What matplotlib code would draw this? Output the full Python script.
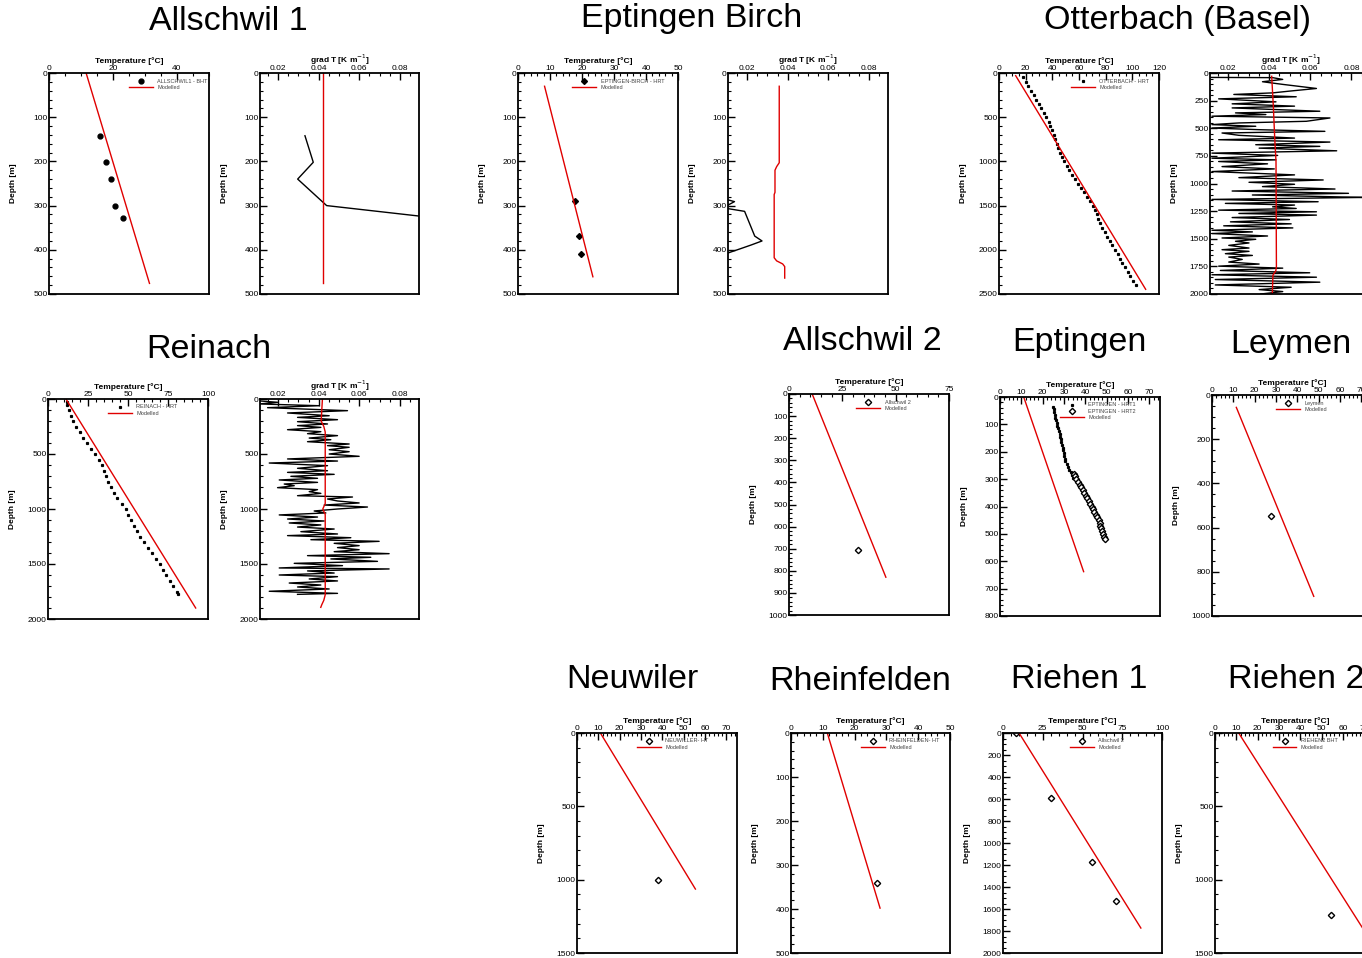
import numpy as np
import matplotlib.pyplot as plt
from matplotlib.ticker import MultipleLocator

plt.rcParams['font.family'] = ['Liberation Sans', 'DejaVu Sans']

# DATA ------------------------------------------------------------------------
# Allschwil 1
a1_bht_t = [15.8, 17.8, 19.4, 20.6, 23.2]
a1_bht_z = [142, 202, 240, 300, 327]
a1_mod_t = [11.6, 31.4]
a1_mod_z = [0, 476]
a1_grad_g = [0.0332, 0.0373, 0.0296, 0.0439, 0.096]
a1_grad_z = [142, 202, 240, 300, 327]
a1_mgrad_g = [0.0422, 0.0422]
a1_mgrad_z = [0, 476]

# Eptingen Birch
eb_hrt_t = [17.7, 19.1, 19.8]
eb_hrt_z = [289, 369, 409]
eb_mod_t = [8.3, 23.4]
eb_mod_z = [30, 461]
eb_grad_g = [0.008, 0.0137, 0.008, 0.0187, 0.0237, 0.0273, 0.022, 0.017, 0.010, 0.006]
eb_grad_z = [284, 291, 305, 313, 369, 380, 389, 397, 408, 413]
eb_mgrad_g = [0.0358, 0.0358, 0.0345, 0.0337, 0.0337, 0.0333, 0.0333, 0.0345, 0.0375, 0.0385, 0.0385]
eb_mgrad_z = [30, 203, 212, 220, 270, 275, 418, 425, 432, 438, 464]

# Otterbach (Basel)
ob_hrt_z = [50, 100, 150, 200, 250, 300, 350, 400, 450, 500, 550, 600, 650, 700,
            750, 800, 850, 900, 950, 1000, 1050, 1100, 1150, 1200, 1250, 1300,
            1350, 1400, 1450, 1500, 1550, 1600, 1650, 1700, 1750, 1800, 1850,
            1900, 1950, 2000, 2050, 2100, 2150, 2200, 2250, 2300, 2350, 2400]
ob_hrt_t = [18.2, 20.2, 22.1, 24.1, 26.0, 28.0, 29.9, 31.8, 33.7, 35.6, 37.2, 38.6,
            40.0, 41.2, 42.3, 43.4, 44.5, 45.7, 47.2, 49.0, 50.8, 52.8, 54.8, 57.0,
            59.4, 61.8, 64.0, 66.0, 68.6, 70.6, 72.0, 73.3, 74.6, 76.0, 77.6, 79.2,
            81.0, 83.0, 85.0, 87.0, 89.0, 90.8, 92.6, 94.5, 96.4, 98.5, 100.6, 102.8]
ob_mod_t = [12.5, 110.0]
ob_mod_z = [30, 2447]
ob_grad_x = [18, 200, 230, 170, 230, 330, 250, 200, 85, 270, 40, 210, 80, 265, 80,
             340, 90, 180, 20, 370, 300, 100, 20, 150, 20, 160, 355, 50, 100, 265,
             40, 370, 150, 340, 160, 390, 20, 215, 20, 210, 40, 185, 50, 205, 20,
             265, 100, 350, 130, 265, 170, 385, 80, 425, 140, 470, 20, 335, 60, 265,
             200, 270, 40, 330, 100, 330, 80, 250, 75, 255, 55, 260, 20, 140, 20,
             185, 50, 150, 90, 130, 70, 130, 50, 130, 60, 140, 70, 110, 70, 160, 40,
             230, 45, 310, 20, 330, 30, 340, 30, 255, 160, 230, 165]
ob_grad_z = [40, 42, 58, 79, 103, 140, 164, 180, 194, 215, 234, 261, 279, 300, 316,
             346, 361, 376, 391, 407, 437, 452, 467, 482, 498, 513, 528, 543, 564,
             589, 604, 625, 649, 664, 680, 704, 725, 746, 771, 786, 801, 822, 847,
             868, 892, 922, 947, 968, 989, 1007, 1028, 1050, 1068, 1089, 1104, 1126,
             1144, 1165, 1180, 1195, 1211, 1226, 1241, 1256, 1271, 1286, 1308, 1326,
             1347, 1365, 1383, 1402, 1423, 1438, 1453, 1475, 1493, 1505, 1523, 1538,
             1560, 1584, 1599, 1614, 1635, 1651, 1666, 1687, 1711, 1729, 1748, 1766,
             1787, 1808, 1826, 1848, 1869, 1893, 1918, 1939, 1960, 1978, 2000]
# read in zoom pixels, converted to K/m
ob_grad_g = [0.02 + (x - 68) * 0.000164 for x in ob_grad_x]
ob_mgrad_g = [0.0412, 0.042, 0.0427, 0.0433, 0.0435, 0.0432, 0.0418, 0.0415]
ob_mgrad_z = [30, 300, 600, 800, 1750, 1790, 1830, 2000]

# Reinach
re_hrt_z = [25, 50, 100, 150, 200, 250, 300, 350, 400, 450, 500, 550, 600, 650,
            700, 750, 800, 850, 900, 950, 1000, 1050, 1100, 1150, 1200, 1250, 1300,
            1350, 1400, 1450, 1500, 1550, 1600, 1650, 1700, 1750, 1775]
re_hrt_t = [11.6, 12.0, 13.0, 14.2, 15.8, 17.8, 20.0, 22.0, 24.4, 27.0, 29.4, 32.0,
            33.6, 35.0, 36.4, 37.8, 39.2, 41.0, 43.2, 46.0, 48.5, 50.0, 51.8, 53.6,
            55.6, 57.4, 59.8, 62.6, 65.2, 67.6, 69.8, 72.0, 74.0, 76.0, 78.2, 80.4, 81.5]
re_mod_t = [11.5, 92.3]
re_mod_z = [6, 1900]
re_grad_x = [18, 70, 15, 195, 40, 280, 100, 225, 130, 250, 130, 220, 130, 200, 100,
             200, 160, 250, 165, 230, 160, 285, 220, 285, 225, 285, 225, 315, 100,
             250, 45, 220, 130, 220, 100, 240, 110, 190, 75, 190, 90, 120, 70, 190,
             165, 200, 130, 295, 220, 250, 315, 210, 340, 250, 180, 215, 75, 190,
             100, 210, 105, 200, 130, 240, 140, 250, 100, 290, 170, 375, 240, 315,
             250, 315, 240, 405, 160, 350, 230, 370, 120, 265, 75, 405, 160, 240, 75,
             250, 165, 250, 105, 200, 130, 225, 45, 250, 130]
re_grad_z = [18, 30, 45, 61, 79, 106, 127, 152, 167, 188, 206, 227, 242, 258, 279,
             297, 315, 333, 355, 370, 388, 409, 424, 439, 461, 479, 500, 521, 545,
             564, 582, 606, 630, 652, 667, 685, 703, 721, 736, 758, 773, 788, 806,
             824, 842, 858, 879, 891, 909, 927, 945, 964, 982, 1000, 1018, 1036,
             1054, 1073, 1091, 1109, 1127, 1145, 1164, 1182, 1206, 1227, 1242, 1261,
             1279, 1294, 1312, 1333, 1351, 1370, 1388, 1406, 1424, 1439, 1454, 1476,
             1494, 1515, 1536, 1545, 1563, 1582, 1600, 1615, 1636, 1654, 1673, 1691,
             1709, 1727, 1748, 1767, 1776]
re_grad_g = [0.02 + (x - 72) * 0.0001644 for x in re_grad_x]
re_mgrad_g = [0.0418, 0.0412, 0.0425, 0.0432, 0.0432, 0.042, 0.0432, 0.0432, 0.0425, 0.0415, 0.041]
re_mgrad_z = [5, 200, 250, 300, 950, 1000, 1050, 1780, 1830, 1870, 1894]

# Allschwil 2
a2_ht_t = [32.4]
a2_ht_z = [705]
a2_mod_t = [11.0, 45.4]
a2_mod_z = [3, 829]

# Eptingen
ep_hrt1_z = [35, 45, 55, 65, 75, 85, 95, 105, 115, 125, 135, 145, 155, 165, 175,
             185, 195, 205, 215, 225, 235, 245, 255, 265, 275, 285, 295]
ep_hrt1_t = [25.0, 25.1, 25.3, 25.6, 25.9, 26.3, 26.6, 26.9, 27.2, 27.5, 27.9, 28.2,
             28.5, 28.8, 29.0, 29.3, 29.5, 29.8, 30.1, 30.4, 30.7, 31.2, 31.8, 32.5,
             33.1, 33.6, 34.0]
ep_hrt2_z = [280, 290, 300, 310, 320, 330, 340, 350, 360, 370, 380, 390, 400, 410,
             420, 430, 440, 450, 460, 470, 480, 490, 500, 510, 520]
ep_hrt2_t = [34.5, 35.0, 35.8, 36.6, 37.3, 38.0, 38.7, 39.4, 40.1, 40.8, 41.5, 42.3,
             43.0, 43.6, 44.2, 44.8, 45.5, 46.2, 46.7, 47.0, 47.3, 47.7, 48.2, 48.6, 49.0]
ep_mod_t = [11.2, 39.2]
ep_mod_z = [2, 638]

# Leymen
le_ht_t = [27.7]
le_ht_z = [548]
le_mod_t = [11.4, 47.7]
le_mod_z = [56, 911]

# Neuwiler
ne_ht_t = [37.8]
ne_ht_z = [1000]
ne_mod_t = [11.25, 55.5]
ne_mod_z = [7, 1064]

# Rheinfelden
rh_ht_t = [26.9]
rh_ht_z = [341]
rh_mod_t = [11.5, 28.0]
rh_mod_z = [2, 398]

# Riehen 1
r1_ht_t = [8.0, 30.5, 55.8, 71.2]
r1_ht_z = [0, 591, 1176, 1530]
r1_mod_t = [10.1, 86.7]
r1_mod_z = [0, 1773]

# Riehen 2
r2_ht_t = [54.5]
r2_ht_z = [1239]
r2_mod_t = [11.1, 74.0]
r2_mod_z = [0, 1440]

# FIGURE ----------------------------------------------------------------------
W, H = 1362, 958
fig = plt.figure(figsize=(W / 100, H / 100), dpi=100)
RED = '#e00000'


def add_ax(l, t, r, b):
    return fig.add_axes([l / W, 1 - b / H, (r - l) / W, (b - t) / H])


def style(ax, xlim, xmaj, xmin, zmax, zmaj, zmin, xlabel):
    ax.set_xlim(*xlim)
    ax.set_ylim(zmax, 0)
    ax.xaxis.set_ticks_position('top')
    ax.xaxis.set_label_position('top')
    ax.xaxis.set_major_locator(MultipleLocator(xmaj))
    ax.xaxis.set_minor_locator(MultipleLocator(xmin))
    ax.yaxis.set_major_locator(MultipleLocator(zmaj))
    ax.yaxis.set_minor_locator(MultipleLocator(zmin))
    ax.tick_params(which='major', direction='in', length=5, width=1, labelsize=6, pad=1,
                   top=True, bottom=False, left=True, right=False)
    ax.tick_params(which='minor', direction='in', length=2.5, width=0.8,
                   top=True, bottom=False, left=True, right=False)
    ax.set_xlabel(xlabel, fontsize=6, fontweight='bold', labelpad=1)
    ax.set_ylabel('Depth [m]', fontsize=6, fontweight='bold')
    ax.yaxis.set_label_coords(-0.2, 0.5)
    for s in ax.spines.values():
        s.set_linewidth(1.3)


def legend(ax, xa):
    leg = ax.legend(loc='upper left', bbox_to_anchor=(xa, 0.975), fontsize=4, frameon=False,
                    handlelength=4.3, handletextpad=0.8, labelspacing=0.25,
                    borderpad=0, borderaxespad=0, numpoints=1)
    for t in leg.get_texts():
        t.set_color('#444444')


TEMP = 'Temperature [°C]'
GRAD = 'grad T [K m$^{-1}$]'
open_d = dict(marker='D', ms=3.2, mfc='white', mec='black', mew=1, ls='none')

# Allschwil 1
ax = add_ax(49, 73, 209, 294)
ax.plot(a1_bht_t, a1_bht_z, 'o', color='black', ms=3.5, label='ALLSCHWIL1 - BHT')
ax.plot(a1_mod_t, a1_mod_z, color=RED, lw=1, label='Modelled')
style(ax, (0, 50), 20, 5, 500, 100, 20, TEMP)
legend(ax, 0.5)
ax = add_ax(260, 73, 419, 294)
ax.plot(a1_grad_g, a1_grad_z, color='black', lw=1)
ax.plot(a1_mgrad_g, a1_mgrad_z, color=RED, lw=1)
style(ax, (0.011, 0.0895), 0.02, 0.005, 500, 100, 20, GRAD)

# Eptingen Birch
ax = add_ax(518, 73, 678, 294)
ax.plot(eb_hrt_t, eb_hrt_z, 'D', color='black', ms=3, label='EPTINGEN-BIRCH - HRT')
ax.plot(eb_mod_t, eb_mod_z, color=RED, lw=1, label='Modelled')
style(ax, (0, 50), 10, 2, 500, 100, 20, TEMP)
legend(ax, 0.34)
ax = add_ax(728, 73, 888, 294)
ax.plot(eb_grad_g, eb_grad_z, color='black', lw=1)
ax.plot(eb_mgrad_g, eb_mgrad_z, color=RED, lw=1)
style(ax, (0.0105, 0.0895), 0.02, 0.005, 500, 100, 20, GRAD)

# Otterbach
ax = add_ax(999, 73, 1159, 294)
ax.plot(ob_hrt_t, ob_hrt_z, 's', color='black', ms=1.3, label='OTTERBACH - HRT')
ax.plot(ob_mod_t, ob_mod_z, color=RED, lw=1, label='Modelled')
style(ax, (0, 120), 20, 5, 2500, 500, 100, TEMP)
legend(ax, 0.45)
ax = add_ax(1210, 73, 1371, 294)
ax.plot(ob_grad_g, ob_grad_z, color='black', lw=1)
ax.plot(ob_mgrad_g, ob_mgrad_z, color=RED, lw=1)
style(ax, (0.0112, 0.0895), 0.02, 0.005, 2000, 250, 50, GRAD)

# Reinach
ax = add_ax(48, 399, 208, 619)
ax.plot(re_hrt_t, re_hrt_z, 's', color='black', ms=1.3, label='REINACH - HRT')
ax.plot(re_mod_t, re_mod_z, color=RED, lw=1, label='Modelled')
style(ax, (0, 100), 25, 5, 2000, 500, 100, TEMP)
legend(ax, 0.375)
ax = add_ax(260, 399, 419, 619)
ax.plot(re_grad_g, re_grad_z, color='black', lw=1)
ax.plot(re_mgrad_g, re_mgrad_z, color=RED, lw=1)
style(ax, (0.011, 0.0895), 0.02, 0.005, 2000, 500, 100, GRAD)

# Allschwil 2
ax = add_ax(789, 394, 949, 615)
ax.plot(a2_ht_t, a2_ht_z, label='Allschwil 2', **open_d)
ax.plot(a2_mod_t, a2_mod_z, color=RED, lw=1, label='Modelled')
style(ax, (0, 75), 25, 5, 1000, 100, 20, TEMP)
legend(ax, 0.42)

# Eptingen
ax = add_ax(1000, 397, 1160, 616)
ax.plot(ep_hrt1_t, ep_hrt1_z, 's', color='black', ms=1.3, label='EPTINGEN - HRT1')
ax.plot(ep_hrt2_t, ep_hrt2_z, label='EPTINGEN - HRT2', **open_d)
ax.plot(ep_mod_t, ep_mod_z, color=RED, lw=1, label='Modelled')
style(ax, (0, 75), 10, 2, 800, 100, 20, TEMP)
legend(ax, 0.375)

# Leymen
ax = add_ax(1212, 395, 1372, 616)
ax.plot(le_ht_t, le_ht_z, label='Leymen', **open_d)
ax.plot(le_mod_t, le_mod_z, color=RED, lw=1, label='Modelled')
style(ax, (0, 75), 10, 2, 1000, 200, 50, TEMP)
legend(ax, 0.40)

# Neuwiler
ax = add_ax(577, 733, 737, 953)
ax.plot(ne_ht_t, ne_ht_z, label='NEUWILLER- HT', **open_d)
ax.plot(ne_mod_t, ne_mod_z, color=RED, lw=1, label='Modelled')
style(ax, (0, 75), 10, 2, 1500, 500, 100, TEMP)
legend(ax, 0.375)

# Rheinfelden
ax = add_ax(791, 733, 950, 953)
ax.plot(rh_ht_t, rh_ht_z, label='RHEINFELDEN- HT', **open_d)
ax.plot(rh_mod_t, rh_mod_z, color=RED, lw=1, label='Modelled')
style(ax, (0, 50), 10, 2, 500, 100, 20, TEMP)
legend(ax, 0.44)

# Riehen 1
ax = add_ax(1003, 733, 1162, 953)
ax.plot(r1_ht_t, r1_ht_z, label='Allschwil 2', **open_d)
ax.plot(r1_mod_t, r1_mod_z, color=RED, lw=1, label='Modelled')
style(ax, (0, 100), 25, 5, 2000, 200, 50, TEMP)
legend(ax, 0.42)

# Riehen 2
ax = add_ax(1215, 733, 1375, 953)
ax.plot(r2_ht_t, r2_ht_z, label='RIEHEN2 BHT', **open_d)
ax.plot(r2_mod_t, r2_mod_z, color=RED, lw=1, label='Modelled')
style(ax, (0, 75), 10, 2, 1500, 500, 100, TEMP)
legend(ax, 0.36)

# titles
titles = [('Allschwil 1', 228, 22), ('Eptingen Birch', 692, 18), ('Otterbach (Basel)', 1178, 20),
          ('Reinach', 209, 349), ('Allschwil 2', 862, 341), ('Eptingen', 1079, 342),
          ('Leymen', 1291, 344), ('Neuwiler', 632, 679), ('Rheinfelden', 860, 681),
          ('Riehen 1', 1079, 679), ('Riehen 2', 1296, 679)]
for txt, x, y in titles:
    fig.text(x / W, 1 - y / H, txt, fontsize=24.5, ha='center', va='center')

fig.savefig('out.png', dpi=100)
